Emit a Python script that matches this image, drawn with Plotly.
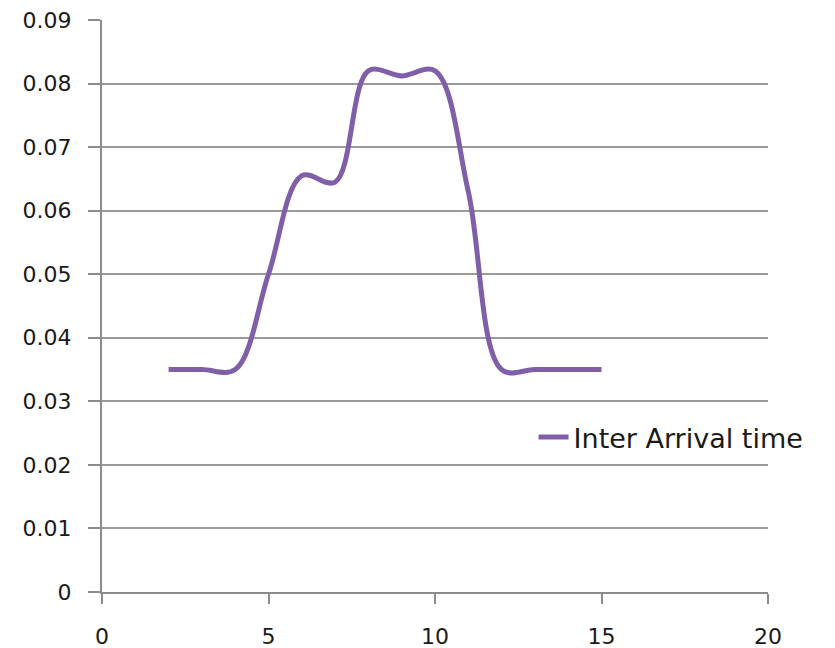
import plotly.graph_objects as go

# Inter-arrival time samples
x_vals = [2, 3, 4, 5, 6, 7, 8, 9, 10, 11, 12, 13, 14, 15]
y_vals = [0.035, 0.035, 0.035, 0.050, 0.0655, 0.0645, 0.082, 0.0812, 0.082, 0.063, 0.035, 0.035, 0.035, 0.035]
series_name = "Inter Arrival time"

x_ticks = [0, 5, 10, 15, 20]
y_ticks = [0, 0.01, 0.02, 0.03, 0.04, 0.05, 0.06, 0.07, 0.08, 0.09]
y_labels = ["0", "0.01", "0.02", "0.03", "0.04", "0.05", "0.06", "0.07", "0.08", "0.09"]

fig = go.Figure()
fig.add_trace(go.Scatter(
    x=x_vals, y=y_vals, mode="lines", name=series_name,
    line=dict(color="#7F60A8", width=5, shape="spline", smoothing=1.0),
))

axis_font = dict(family="DejaVu Sans", size=22, color="#1a1a1a")

fig.update_layout(
    width=835, height=648,
    margin=dict(l=102, r=67, t=20, b=56),
    paper_bgcolor="white", plot_bgcolor="white",
    showlegend=True,
    legend=dict(
        x=0.648, y=0.27, xanchor="left", yanchor="middle",
        font=dict(family="DejaVu Sans", size=27, color="#1a1a1a"),
        bgcolor="rgba(0,0,0,0)",
    ),
    xaxis=dict(
        range=[0, 20], tickvals=x_ticks, showgrid=False, automargin=False,
        showline=True, linecolor="#8c8c8c", linewidth=2,
        ticks="outside", ticklen=10, tickcolor="#8c8c8c", tickwidth=2,
        tickfont=axis_font, ticklabelstandoff=14, zeroline=False,
    ),
    yaxis=dict(
        range=[0, 0.09], tickvals=y_ticks, ticktext=y_labels, automargin=False,
        showgrid=True, gridcolor="#9a9a9a", gridwidth=2,
        showline=True, linecolor="#8c8c8c", linewidth=2,
        ticks="outside", ticklen=12, tickcolor="#8c8c8c", tickwidth=2,
        tickfont=axis_font, ticklabelstandoff=12, zeroline=False,
    ),
)

fig.write_html("out.html")
